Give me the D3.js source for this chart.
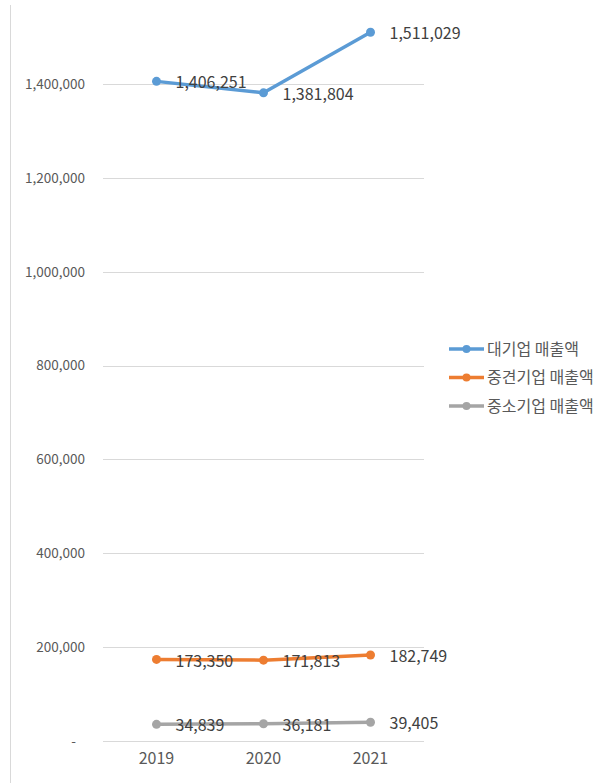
<!DOCTYPE html>
<html>
<head>
<meta charset="utf-8">
<script src="https://cdn.jsdelivr.net/npm/d3@7"></script>
<style>
  body { margin: 0; background: #fff; }
  text { font-family: "Noto Sans CJK KR", "Noto Sans", sans-serif; }
</style>
</head>
<body>
<div id="chart"></div>
<script>
// data
const years = ["2019", "2020", "2021"]
const seriesNames = ["대기업 매출액", "중견기업 매출액", "중소기업 매출액"]
const largeSales = [1406251, 1381804, 1511029]
const midSales = [173350, 171813, 182749]
const smallSales = [34839, 36181, 39405]
const yTicks = [0, 200000, 400000, 600000, 800000, 1000000, 1200000, 1400000]
const colors = ["#5b9bd5", "#ed7d31", "#a5a5a5"]

const width = 601
const height = 783

const svg = d3.select("#chart").append("svg").attr("width", width).attr("height", height)

// left border line
svg.append("line").attr("x1", 10.5).attr("x2", 10.5).attr("y1", 5).attr("y2", height)
  .attr("stroke", "#d9d9d9").attr("stroke-width", 1)

const x = d3.scaleBand().domain(years).range([103, 424])
const y = d3.scaleLinear().domain([0, 1400000]).range([740.7, 84.3])

// gridlines
svg.append("g").selectAll("line").data(yTicks).enter().append("line")
  .attr("x1", 103).attr("x2", 424)
  .attr("y1", d => Math.round(y(d)) + 0.5).attr("y2", d => Math.round(y(d)) + 0.5)
  .attr("stroke", "#d9d9d9").attr("stroke-width", 1)

// y axis labels
const yAxis = d3.axisLeft(y).tickValues(yTicks).tickSize(0).tickPadding(0)
  .tickFormat(d => d === 0 ? "-   " : d3.format(",")(d))
const yAxisGroup = svg.append("g").attr("transform", "translate(85,0)").call(yAxis)
yAxisGroup.select(".domain").remove()
yAxisGroup.selectAll("text").attr("font-size", 13.5).attr("fill", "#595959")
  .attr("font-family", "'Noto Sans CJK KR', 'Noto Sans', sans-serif").style("white-space", "pre")

// x axis labels
const xAxis = d3.axisBottom(x).tickSize(0).tickPadding(0)
const xAxisGroup = svg.append("g").attr("transform", "translate(0,753)").call(xAxis)
xAxisGroup.select(".domain").remove()
xAxisGroup.selectAll("text").attr("font-size", 16).attr("fill", "#595959")
  .attr("font-family", "'Noto Sans CJK KR', 'Noto Sans', sans-serif")

const allSeries = [largeSales, midSales, smallSales]
const cx = d => x(d) + x.bandwidth() / 2

const line = d3.line().x((d, i) => cx(years[i])).y(d => y(d))

allSeries.forEach((vals, s) => {
  const g = svg.append("g")
  g.append("path").datum(vals).attr("d", line)
    .attr("fill", "none").attr("stroke", colors[s]).attr("stroke-width", 3.5)
    .attr("stroke-linejoin", "round").attr("stroke-linecap", "round")
  g.selectAll("circle").data(vals).enter().append("circle")
    .attr("cx", (d, i) => cx(years[i])).attr("cy", d => y(d)).attr("r", 4.5)
    .attr("fill", colors[s])
  g.selectAll("text").data(vals).enter().append("text")
    .attr("x", (d, i) => cx(years[i]) + 19).attr("y", d => y(d) + 1.5)
    .attr("dy", "0.35em").attr("font-size", 16).attr("fill", "#404040")
    .text(d => d3.format(",")(d))
})

// legend
const legend = svg.append("g")
seriesNames.forEach((name, i) => {
  const ly = 349 + i * 28.5
  legend.append("line").attr("x1", 449).attr("x2", 484).attr("y1", ly).attr("y2", ly)
    .attr("stroke", colors[i]).attr("stroke-width", 3.5)
  legend.append("circle").attr("cx", 466.5).attr("cy", ly).attr("r", 4).attr("fill", colors[i])
  legend.append("text").attr("x", 487).attr("y", ly).attr("dy", "0.35em")
    .attr("font-size", 16).attr("fill", "#595959").text(name)
})
</script>
</body>
</html>
